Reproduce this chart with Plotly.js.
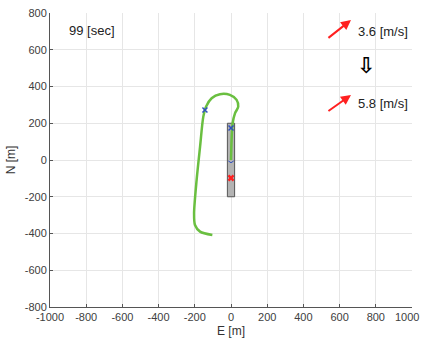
<!DOCTYPE html>
<html><head><meta charset="utf-8">
<script src="https://cdn.plot.ly/plotly-3.0.1.min.js"></script>
<style>html,body{margin:0;padding:0;background:#fff}#c{width:422px;height:346px}</style>
</head><body><div id="c"></div>
<script>
// trajectory (E, N) in metres
const pathE = [-103, -171, -199, -204, -190, -171, -153, -138, -107, -61, -6, 31, 40, 22, 9, 4, 0];
const pathN = [-408, -390, -354, -290, -109, 72, 236, 290, 336, 358, 354, 327, 290, 254, 200, 127, 0];
// runway rectangle corners
const rectE = [-20, 20, 20, -20, -20];
const rectN = [-200, -200, 200, 200, -200];
// blue markers
const blueE = [-144, 0];
const blueN = [272, 174];
// blue heading segment near current position
const headE = [-15, 0, 15];
const headN = [-5, -15, -5];
// red target
const redE = [0];
const redN = [-98];
// wind labels
const timeLabel = "99 [sec]";
const wind1 = "3.6 [m/s]";
const wind2 = "5.8 [m/s]";
const ticks = [-1000, -800, -600, -400, -200, 0, 200, 400, 600, 800, 1000];
const yticks = [-800, -600, -400, -200, 0, 200, 400, 600, 800];

const traces = [
  {x: rectE, y: rectN, type: 'scatter', mode: 'lines', fill: 'toself', fillcolor: '#b3b3b3',
   line: {color: '#555555', width: 1}, hoverinfo: 'skip'},
  {x: pathE, y: pathN, type: 'scatter', mode: 'lines', line: {color: '#6abf40', width: 2.5, shape: 'spline', smoothing: 0.8}},
  {x: headE, y: headN, type: 'scatter', mode: 'lines', line: {color: '#3050c0', width: 1}},
  {x: blueE, y: blueN, type: 'scatter', mode: 'markers', marker: {symbol: 'x-thin', size: 5, color: '#3050c0', line: {width: 1.5, color: '#3050c0'}}},
  {x: redE, y: redN, type: 'scatter', mode: 'markers', marker: {symbol: 'x', size: 6, color: '#ff2020', line: {width: 0}}}
];

const tf = {family: 'Liberation Sans, Arial, sans-serif', size: 11, color: '#404040'};
const lastTick = ticks[ticks.length - 1];
const layout = {
  width: 422, height: 346,
  margin: {l: 50, r: 10, t: 13, b: 39},
  paper_bgcolor: '#fff', plot_bgcolor: '#fff',
  showlegend: false,
  font: tf,
  xaxis: {range: [-1000, 1000], tickvals: ticks, ticktext: ticks.map(v => v === lastTick ? '' : String(v)), showgrid: true, gridcolor: '#e6e6e6',
    zeroline: false, showline: true, linecolor: '#555', linewidth: 1, ticks: 'inside', ticklen: 3, tickcolor: '#555',
    tickfont: tf, title: {text: 'E [m]', font: {family: tf.family, size: 12, color: '#333'}, standoff: 4}},
  yaxis: {range: [-800, 800], tickvals: yticks, ticktext: yticks.map(String), showgrid: true, gridcolor: '#e6e6e6',
    zeroline: false, showline: true, linecolor: '#555', linewidth: 1, ticks: 'inside', ticklen: 3, tickcolor: '#555',
    tickfont: tf, title: {text: 'N [m]', font: {family: tf.family, size: 12, color: '#333'}, standoff: 6}},
  annotations: [
    {x: 1, y: 0, xref: 'paper', yref: 'paper', text: String(lastTick), showarrow: false, xanchor: 'right', yanchor: 'top',
     xshift: 9, yshift: -2, font: tf},
    {x: -905, y: 707, xref: 'x', yref: 'y', text: timeLabel, showarrow: false, xanchor: 'left', font: {family: tf.family, size: 13, color: '#222'}},
    {x: 692, y: 702, xref: 'x', yref: 'y', text: wind1, showarrow: false, xanchor: 'left', font: {family: tf.family, size: 13, color: '#222'}},
    {x: 692, y: 305, xref: 'x', yref: 'y', text: wind2, showarrow: false, xanchor: 'left', font: {family: tf.family, size: 13, color: '#222'}},
    {x: 746, y: 512, xref: 'x', yref: 'y', text: '<b>⇩</b>', showarrow: false, font: {family: 'DejaVu Sans', size: 22, color: '#000'}},
    {x: 663, y: 762, ax: 530, ay: 658, xref: 'x', yref: 'y', axref: 'x', ayref: 'y', text: '', showarrow: true,
     arrowhead: 2, arrowsize: 1, arrowwidth: 2, arrowcolor: '#ff2020'},
    {x: 663, y: 354, ax: 530, ay: 261, xref: 'x', yref: 'y', axref: 'x', ayref: 'y', text: '', showarrow: true,
     arrowhead: 2, arrowsize: 1, arrowwidth: 2, arrowcolor: '#ff2020'}
  ]
};
Plotly.newPlot('c', traces, layout, {staticPlot: true, displayModeBar: false});
</script></body></html>
